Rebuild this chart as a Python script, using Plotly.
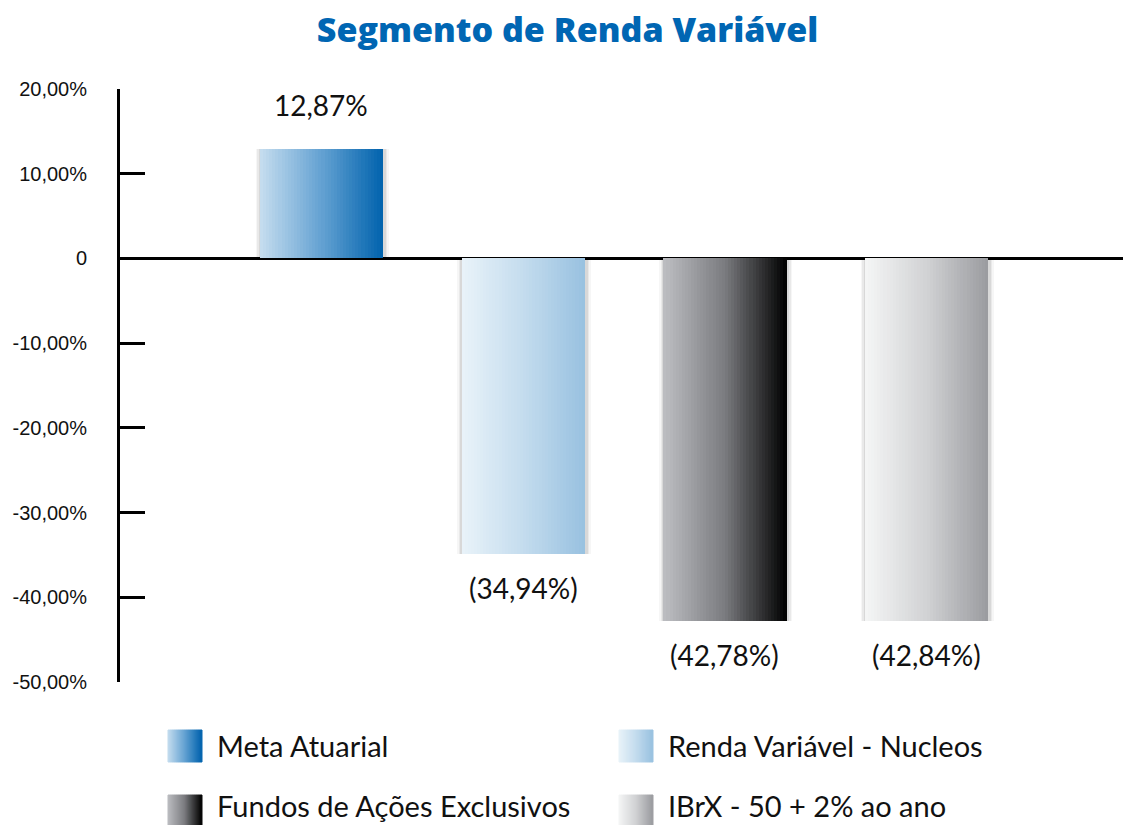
import plotly.graph_objects as go

# ---------------- data ----------------
categories = ["Meta Atuarial", "Renda Variável - Nucleos",
              "Fundos de Ações Exclusivos", "IBrX - 50 + 2% ao ano"]
values = [12.87, -34.94, -42.78, -42.84]
value_labels = ["12,87%", "(34,94%)", "(42,78%)", "(42,84%)"]
tick_values = [20, 10, 0, -10, -20, -30, -40, -50]
tick_labels = ["20,00%", "10,00%", "0", "-10,00%", "-20,00%", "-30,00%", "-40,00%", "-50,00%"]
title_text = "Segmento de Renda Variável"

# ---------------- styles ----------------
gradients = [
    ["#c6ddef", "#64a2d2", "#0062ad"],
    ["#e9f3f9", "#c4dcee", "#98c1e0"],
    ["#bdbec2", "#7a7b7f", "#000000"],
    ["#f5f6f6", "#d1d2d4", "#9a9b9f"],
]
W = 0.61
N = 40
W_PX, H_PX = 1123, 825
ML, MR, MT, MB = 120, 0, 89, 143


def hex2rgb(h):
    h = h.lstrip("#")
    return [int(h[i:i + 2], 16) for i in (0, 2, 4)]


def grad_color(stops, t):
    seg = t * (len(stops) - 1)
    i = min(int(seg), len(stops) - 2)
    f = seg - i
    a, b = hex2rgb(stops[i]), hex2rgb(stops[i + 1])
    c = [round(a[k] + (b[k] - a[k]) * f) for k in range(3)]
    return f"rgb({c[0]},{c[1]},{c[2]})"


xs = list(range(len(categories)))
fig = go.Figure()

# soft shadow
for extra, alpha in [(0.05, 0.035), (0.035, 0.05), (0.02, 0.07)]:
    fig.add_trace(go.Bar(
        x=xs, y=values, width=W + extra, offset=-(W + extra) / 2 + 0.004,
        marker=dict(color=f"rgba(0,0,0,{alpha})", line=dict(width=0)),
        showlegend=False, hoverinfo="skip"))

# gradient bars built from thin strips
for k in range(N):
    t = (k + 0.5) / N
    fig.add_trace(go.Bar(
        x=xs, y=values,
        width=W / N * 1.08, offset=-W / 2 + k * W / N,
        marker=dict(color=[grad_color(g, t) for g in gradients], line=dict(width=0)),
        showlegend=False, hoverinfo="skip"))

# value labels
for x, v, lab in zip(xs, values, value_labels):
    fig.add_annotation(x=x, y=v, text=lab, showarrow=False,
                       yanchor="middle", yshift=44 if v >= 0 else -34,
                       font=dict(family="Lato", size=28, color="#111111"))

# custom legend
plot_w = W_PX - ML - MR
plot_h = H_PX - MT - MB


def px2paper(px, py):
    return (px - ML) / plot_w, (H_PX - MB - py) / plot_h


legend_pos = [(168, 730), (619, 730), (168, 795), (619, 795)]
text_center = [746, 746, 805, 805]
sw_w, sw_h = 34, 32
ns = 17
for (lx, ly), tc, g, name in zip(legend_pos, text_center, gradients, categories):
    for k in range(ns):
        x0, y0 = px2paper(lx + k * sw_w / ns, ly)
        x1, y1 = px2paper(lx + (k + 1) * sw_w / ns, ly + sw_h)
        col = grad_color(g, (k + 0.5) / ns)
        fig.add_shape(type="rect", xref="paper", yref="paper",
                      x0=x0, x1=x1, y0=y1, y1=y0,
                      fillcolor=col, line=dict(width=1, color=col),
                      layer="above")
    tx, ty = px2paper(lx + 47, tc)
    fig.add_annotation(xref="paper", yref="paper", x=tx, y=ty, text=name,
                       showarrow=False, xanchor="left", yanchor="middle",
                       font=dict(family="Lato", size=29, color="#111111"))

fig.update_layout(
    width=W_PX, height=H_PX,
    margin=dict(l=ML, r=MR, t=MT, b=MB, pad=0, autoexpand=False),
    paper_bgcolor="white", plot_bgcolor="white",
    barmode="overlay", bargap=0,
    showlegend=False,
    title=dict(text=title_text, x=567.5 / W_PX, xanchor="center",
               y=1 - 30 / H_PX, yanchor="middle", yref="container",
               font=dict(family="Open Sans", size=34, color="#0066b3", weight=800)),
    xaxis=dict(range=[-0.999, 3.974], showticklabels=False, showgrid=False,
               zeroline=False, showline=False, ticks="", automargin=False),
    yaxis=dict(range=[-50, 20], tickvals=tick_values, ticktext=tick_labels,
               showgrid=False, showline=True, linecolor="black", linewidth=3,
               ticks="inside", ticklen=25, tickwidth=3, tickcolor="black",
               zeroline=True, zerolinecolor="black", zerolinewidth=3,
               ticklabelstandoff=26, automargin=False,
               tickfont=dict(family="Liberation Sans", size=20, color="#111111")),
)

fig.write_html("out.html", config={"displayModeBar": False},
               post_script="document.body.style.margin='0';document.body.style.overflow='hidden';")
